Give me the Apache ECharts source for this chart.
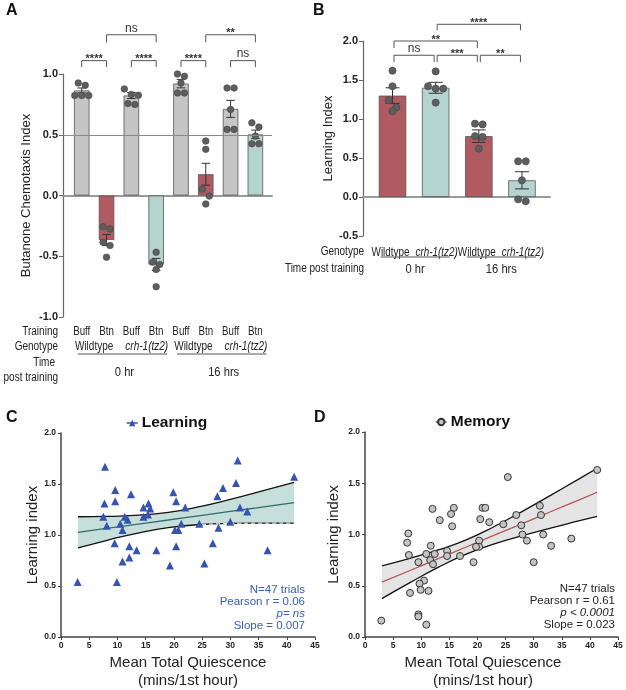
<!DOCTYPE html>
<html>
<head>
<meta charset="utf-8">
<title>Butanone learning and memory</title>
<script src="https://cdn.jsdelivr.net/npm/echarts@6/dist/echarts.min.js"></script>
<style>
    html, body { margin: 0; padding: 0; background: #fff; }
    #chart { width: 626px; height: 690px; }
</style>
</head>
<body>
<div id="chart"></div>
<script>

// ------------------------------
// Data
// ------------------------------

// Panel A - chemotaxis index per condition
var aTraining = ['Buff', 'Btn', 'Buff', 'Btn', 'Buff', 'Btn', 'Buff', 'Btn'];
var aGenotype = ['Wildtype', 'crh-1(tz2)', 'Wildtype', 'crh-1(tz2)'];
var aTime = ['0 hr', '16 hrs'];
var aMeans = [0.865, -0.366, 0.823, -0.568, 0.921, 0.175, 0.713, 0.503];
var aSem = [0.02, 0.045, 0.025, 0.05, 0.035, 0.09, 0.07, 0.035];
var aPoints = [
    [0.926, 0.907, 0.823, 0.823, 0.823],
    [-0.257, -0.276, -0.385, -0.412, -0.508],
    [0.877, 0.831, 0.825, 0.757, 0.749],
    [-0.467, -0.549, -0.568, -0.609, -0.751],
    [1.0, 0.981, 0.926, 0.844, 0.844],
    [0.448, 0.38, 0.052, -0.005, -0.07],
    [0.885, 0.885, 0.708, 0.544, 0.544],
    [0.598, 0.563, 0.489, 0.426, 0.426]
];
// [from bar, to bar, label, level]
var aSig = [[1, 2, '****', 0], [3, 4, '****', 0], [5, 6, '****', 0], [7, 8, 'ns', 0], [2, 4, 'ns', 1], [6, 8, '**', 1]];

// Panel B - learning index
var bGenotype = ['Wildtype', 'crh-1(tz2)', 'Wildtype', 'crh-1(tz2)'];
var bTime = ['0 hr', '16 hrs'];
var bMeans = [1.30, 1.40, 0.78, 0.214];
var bSem = [0.10, 0.07, 0.08, 0.11];
var bPoints = [
    [1.62, 1.42, 1.24, 1.15, 1.10],
    [1.61, 1.42, 1.39, 1.39, 1.21],
    [0.94, 0.93, 0.78, 0.77, 0.62],
    [0.458, 0.458, 0.214, -0.03, -0.055]
];
var bSig = [[1, 2, 'ns', 0], [2, 3, '***', 0], [3, 4, '**', 0], [1, 3, '**', 1], [2, 4, '****', 2]];

// Panel C - learning vs quiescence
var cX = [7.8, 31.3, 41.3, 9.6, 12.4, 7.7, 9.6, 19.9, 20.4, 31.0, 28.7, 27.7, 15.5, 14.6, 15.8, 15.4, 14.6, 11.3, 11.8, 7.5, 22.0, 31.7, 33.0, 10.5, 8.1, 10.9, 21.3, 24.5, 30.0, 27.9, 20.2, 20.8, 9.5, 12.1, 13.4, 16.9, 20.4, 26.9, 36.6, 12.1, 10.9, 19.3, 25.4, 2.95, 9.9];
var cY = [1.67, 1.73, 1.57, 1.44, 1.40, 1.31, 1.33, 1.42, 1.33, 1.51, 1.46, 1.38, 1.31, 1.27, 1.26, 1.20, 1.18, 1.18, 1.15, 1.18, 1.27, 1.27, 1.23, 1.11, 1.09, 1.05, 1.11, 1.11, 1.13, 1.07, 1.05, 1.05, 0.92, 0.89, 0.85, 0.85, 0.89, 0.92, 0.85, 0.78, 0.74, 0.70, 0.72, 0.54, 0.54];
var cBandX = [3, 8, 13, 19, 25, 30, 35, 41.3];
var cFit = [1.026, 1.064, 1.102, 1.147, 1.193, 1.231, 1.269, 1.317];
var cUpper = [1.179, 1.182, 1.192, 1.222, 1.283, 1.349, 1.422, 1.517];
var cLower = [0.873, 0.946, 1.012, 1.072, 1.103, 1.113, 1.116, 1.117];
var cStats = ['N=47 trials', 'Pearson r = 0.06', 'p= ns', 'Slope = 0.007'];

// Panel D - memory vs quiescence
var dX = [41.3, 25.4, 12.0, 15.8, 20.9, 21.4, 15.3, 13.3, 15.5, 20.5, 22.1, 24.6, 26.9, 31.1, 31.3, 27.8, 28.0, 28.8, 31.7, 33.1, 36.7, 30.0, 7.7, 7.5, 11.7, 7.8, 10.9, 12.4, 11.6, 12.1, 9.5, 14.6, 14.6, 16.9, 20.3, 20.3, 19.75, 19.3, 10.5, 9.7, 8.0, 9.9, 11.3, 2.9, 9.5, 9.5, 10.9];
var dY = [1.63, 1.56, 1.25, 1.26, 1.26, 1.26, 1.20, 1.14, 1.08, 1.15, 1.12, 1.10, 1.19, 1.28, 1.19, 1.09, 1.00, 0.94, 1.00, 0.89, 0.96, 0.73, 1.01, 0.92, 0.89, 0.80, 0.81, 0.81, 0.75, 0.71, 0.73, 0.84, 0.79, 0.79, 0.94, 0.88, 0.88, 0.73, 0.55, 0.52, 0.43, 0.46, 0.45, 0.16, 0.22, 0.20, 0.12];
var dBandX = [3, 8, 13, 18, 23, 28, 33, 38, 41.3];
var dFit = [0.535, 0.649, 0.764, 0.878, 0.993, 1.107, 1.222, 1.336, 1.412];
var dUpper = [0.695, 0.768, 0.849, 0.948, 1.078, 1.226, 1.382, 1.540, 1.646];
var dLower = [0.375, 0.530, 0.679, 0.808, 0.908, 0.988, 1.062, 1.132, 1.178];
var dStats = ['N=47 trials', 'Pearson r = 0.61', 'p < 0.0001', 'Slope = 0.023'];


// ------------------------------
// Styles
// ------------------------------

var FONT = '"Liberation Sans", Arial, sans-serif';
var GRAY_BAR = '#c5c5c5';
var RED_BAR = '#b05b61';
var TEAL_BAR = '#b4d4cf';
var aColors = [GRAY_BAR, RED_BAR, GRAY_BAR, TEAL_BAR, GRAY_BAR, RED_BAR, GRAY_BAR, TEAL_BAR];
var bColors = [RED_BAR, TEAL_BAR, RED_BAR, TEAL_BAR];
var BLUE = '#3553b0';

// bracket levels: [top, leg bottom] in data units
var aLevels = [[1.11, 1.057], [1.323, 1.26]];
var bLevels = [[1.817, 1.73], [2.0, 1.91], [2.214, 2.137]];


// ------------------------------
// Helpers
// ------------------------------

// text element; sx squeezes the glyphs to mimic a narrow face
function textEl(x, y, str, o) {
    o = o || {};
    var align = o.align || 'center';
    var el = {
        type: 'text', x: x, y: y, silent: true,
        scaleX: o.sx || 1,
        style: {
            text: str,
            fill: o.color || '#222',
            fontSize: o.size || 12,
            fontFamily: FONT,
            fontStyle: o.italic ? 'italic' : 'normal',
            fontWeight: o.bold ? 'bold' : 'normal',
            align: align, textAlign: align,
            verticalAlign: 'middle', textVerticalAlign: 'middle'
        }
    };
    if (o.z) el.z = o.z;
    return el;
}

function lineEl(x1, y1, x2, y2, color, w) {
    return {
        type: 'line', silent: true,
        shape: { x1: x1, y1: y1, x2: x2, y2: y2 },
        style: { stroke: color || '#333', lineWidth: w || 1 }
    };
}

// spread points with close values side by side
function swarmOffsets(vals, ppu, d) {
    var idx = vals.map(function(v, i) { return i; }).sort(function(a, b) { return vals[b] - vals[a]; });
    var off = vals.map(function() { return 0; });
    var k = 0;
    while (k < idx.length) {
        var cl = [idx[k]];
        var j = k + 1;
        while (j < idx.length && (vals[idx[k]] - vals[idx[j]]) * ppu < d) {
            cl.push(idx[j]);
            j++;
        }
        cl.forEach(function(p, n) { off[p] = (n - (cl.length - 1) / 2) * d; });
        k = j;
    }
    return off;
}

function errorBarRenderer(means, sems, half) {
    return function(params, api) {
        var i = params.dataIndex;
        var hi = api.coord([i + 1, means[i] + sems[i]]);
        var lo = api.coord([i + 1, means[i] - sems[i]]);
        return {
            type: 'group',
            children: [
                lineEl(hi[0], hi[1], lo[0], lo[1], '#333', 1),
                lineEl(hi[0] - half, hi[1], hi[0] + half, hi[1], '#333', 1),
                lineEl(lo[0] - half, lo[1], lo[0] + half, lo[1], '#333', 1)
            ]
        };
    };
}

function dotRenderer(groups, r) {
    return function(params, api) {
        var g = api.value(0) - 1;
        var k = api.value(2);
        var ppu = Math.abs(api.size([0, 1])[1]);
        var offs = swarmOffsets(groups[g], ppu, r * 2 + 0.4);
        var p = api.coord([g + 1, api.value(1)]);
        return {
            type: 'circle',
            shape: { cx: p[0] + offs[k], cy: p[1], r: r },
            style: { fill: '#5e5e5e', stroke: '#444', lineWidth: 0.6 }
        };
    };
}

function dotData(groups) {
    var out = [];
    groups.forEach(function(vals, g) {
        vals.forEach(function(v, k) { out.push([g + 1, v, k]); });
    });
    return out;
}

function bracketRenderer(sigs, levels, inset) {
    return function(params, api) {
        var s = sigs[params.dataIndex];
        var lv = levels[s[3]];
        var a = api.coord([s[0], lv[0]]);
        var b = api.coord([s[1], lv[0]]);
        var leg = api.coord([s[0], lv[1]])[1];
        var x1 = a[0] + inset, x2 = b[0] - inset;
        var isStar = s[2].indexOf('*') === 0;
        return {
            type: 'group',
            children: [
                {
                    type: 'polyline', silent: true,
                    shape: { points: [[x1, leg], [x1, a[1]], [x2, a[1]], [x2, leg]] },
                    style: { stroke: '#555', lineWidth: 1, fill: null }
                },
                textEl((x1 + x2) / 2, a[1] + (isStar ? -1.5 : -6.5), s[2], {
                    size: isStar ? 11 : 12, bold: isStar, color: '#333'
                })
            ]
        };
    };
}

function barData(means, colors) {
    return means.map(function(m, i) {
        return { value: [i + 1, m], itemStyle: { color: colors[i] } };
    });
}

function xyData(xs, ys) {
    return xs.map(function(x, i) { return [x, ys[i]]; });
}


// ------------------------------
// Label rows under A and B
// ------------------------------

function renderALabels(params, api) {
    var base = api.coord([1, -1])[1];
    var kids = [];
    aTraining.forEach(function(t, i) {
        kids.push(textEl(api.coord([i + 1, -1])[0], base + 15, t, { size: 12.5, sx: 0.78 }));
    });
    for (var g = 0; g < aGenotype.length; g++) {
        var x1 = api.coord([2 * g + 1, -1])[0];
        var x2 = api.coord([2 * g + 2, -1])[0];
        var it = aGenotype[g].indexOf('crh') === 0;
        kids.push(textEl((x1 + x2) / 2 + (it ? 3 : 0), base + 30, aGenotype[g], { size: 12.5, italic: it, sx: 0.8 }));
    }
    for (var t = 0; t < aTime.length; t++) {
        var l = api.coord([4 * t + 1, -1])[0] - 4;
        var r = api.coord([4 * t + 4, -1])[0] + 11;
        kids.push(lineEl(l, base + 37, r, base + 37, '#555', 1));
        kids.push(textEl((l + r) / 2 + 2, base + 55, aTime[t], { size: 13, sx: 0.86 }));
    }
    return { type: 'group', children: kids };
}

function renderBLabels(params, api) {
    var base = api.coord([1, -0.5])[1];
    var kids = [];
    bGenotype.forEach(function(gn, i) {
        var it = gn.indexOf('crh') === 0;
        kids.push(textEl(api.coord([i + 1, -0.5])[0] + (it ? 1 : -2), base + 16, gn, { size: 13, italic: it, sx: 0.76 }));
    });
    for (var t = 0; t < bTime.length; t++) {
        var l = api.coord([2 * t + 1, -0.5])[0] - 12;
        var r = api.coord([2 * t + 2, -0.5])[0] + 14;
        kids.push(lineEl(l, base + 21, r, base + 21, '#555', 1));
        kids.push(textEl((l + r) / 2, base + 33.6, bTime[t], { size: 13, sx: 0.86 }));
    }
    return { type: 'group', children: kids };
}


// ------------------------------
// Axes
// ------------------------------

function barYAxis(grid, min, max, name, gap) {
    return {
        gridIndex: grid, type: 'value', min: min, max: max, interval: 0.5,
        name: name, nameLocation: 'middle', nameGap: gap,
        nameTextStyle: { fontFamily: FONT, fontSize: 13, color: '#222' },
        axisLine: { show: true, lineStyle: { color: '#666', width: 1.2 } },
        axisTick: { show: true, length: 4, lineStyle: { color: '#666' } },
        axisLabel: {
            fontFamily: FONT, fontSize: 11, fontWeight: 'bold', color: '#222', margin: 5,
            formatter: function(v) { return v.toFixed(1); }
        },
        splitLine: { show: false }
    };
}

function barXAxis(grid, min, max) {
    return {
        gridIndex: grid, type: 'value', min: min, max: max,
        axisLine: { show: true, onZero: true, lineStyle: { color: '#9a9a9a', width: 2 } },
        axisTick: { show: false }, axisLabel: { show: false }, splitLine: { show: false }
    };
}

function scatterXAxis(grid, padRight) {
    return {
        gridIndex: grid, type: 'value', min: 0, max: 45, interval: 5, z: 3,
        name: 'Mean Total Quiescence\n(mins/1st hour)', nameLocation: 'middle', nameGap: 17,
        nameTextStyle: { fontFamily: FONT, fontSize: 15, lineHeight: 18, color: '#222', padding: [0, padRight, 0, 0] },
        axisLine: { lineStyle: { color: '#444', width: 1.5 } },
        axisTick: { show: true, length: 3, lineStyle: { color: '#444' } },
        axisLabel: { fontFamily: FONT, fontSize: 8.5, fontWeight: 'bold', color: '#222', margin: 4 },
        splitLine: { show: false }
    };
}

function scatterYAxis(grid, gap) {
    return {
        gridIndex: grid, type: 'value', min: 0, max: 2, interval: 0.5, z: 3,
        name: 'Learning index', nameLocation: 'middle', nameGap: gap,
        nameTextStyle: { fontFamily: FONT, fontSize: 15, color: '#222' },
        axisLine: { show: true, lineStyle: { color: '#444', width: 1.5 } },
        axisTick: { show: true, length: 3, lineStyle: { color: '#444' } },
        axisLabel: {
            fontFamily: FONT, fontSize: 8.5, fontWeight: 'bold', color: '#222', margin: 5,
            formatter: function(v) { return v.toFixed(1); }
        },
        splitLine: { show: false }
    };
}

// confidence band: upper line fills down in band colour, lower line fills down in white
function bandLine(idx, xs, ys, color, fill) {
    return {
        type: 'line', xAxisIndex: idx, yAxisIndex: idx, smooth: true, showSymbol: false,
        silent: true, z: 2, lineStyle: { color: color, width: 1.3 },
        areaStyle: { color: fill, opacity: 1, origin: 'start' },
        data: xyData(xs, ys)
    };
}

function plainLine(idx, xs, ys, color) {
    return {
        type: 'line', xAxisIndex: idx, yAxisIndex: idx, smooth: true, showSymbol: false,
        silent: true, z: 2, lineStyle: { color: color, width: 1.3 }, data: xyData(xs, ys)
    };
}

function statsTexts(stats, right, top, color) {
    return stats.map(function(s, i) {
        return textEl(right, top + i * 12, s, {
            align: 'right', size: 11.5, color: color, italic: i === 2, z: 100
        });
    });
}

function letter(x, y, s) {
    return textEl(x, y, s, { align: 'left', size: 16, bold: true, color: '#111', z: 100 });
}

function rowHead(x, y, s, size) {
    return textEl(x, y, s, { align: 'right', size: size, sx: 0.8, z: 100 });
}

function titleLegend(name, left, top, color) {
    return {
        data: [name], left: left, top: top, padding: 0, itemGap: 0,
        itemWidth: 11, itemHeight: 8, selectedMode: false,
        textStyle: { fontFamily: FONT, fontSize: 15.5, fontWeight: 'bold', color: '#111', padding: [0, 0, 0, -1] },
        lineStyle: { width: 1.5, opacity: 1, color: color }
    };
}


// ------------------------------
// Chart
// ------------------------------

var chart = echarts.init(document.getElementById('chart'), null, { renderer: 'canvas' });

var cLowerTail = cBandX.map(function(x, i) { return x >= 24 ? [x, cLower[i]] : null; }).filter(Boolean);

chart.setOption({
    animation: false,
    textStyle: { fontFamily: FONT },
    grid: [
        { left: 63, top: 74, width: 209, height: 243, outerBoundsMode: 'none' },
        { left: 363, top: 41, width: 187, height: 195, outerBoundsMode: 'none' },
        { left: 61, top: 433, width: 254, height: 204, outerBoundsMode: 'none' },
        { left: 365, top: 432, width: 253, height: 205, outerBoundsMode: 'none' }
    ],
    xAxis: [
        barXAxis(0, 0.245, 8.67),
        barXAxis(1, 0.316, 4.65),
        scatterXAxis(2, 0),
        scatterXAxis(3, 17)
    ],
    yAxis: [
        barYAxis(0, -1, 1, 'Butanone Chemotaxis Index', 30),
        barYAxis(1, -0.5, 2, 'Learning Index', 28),
        scatterYAxis(2, 19),
        scatterYAxis(3, 24)
    ],
    legend: [
        titleLegend('Learning', 126, 415, BLUE),
        titleLegend('Memory', 435, 414, '#b8545a')
    ],
    graphic: [
        letter(6, 11, 'A'),
        letter(313, 11, 'B'),
        letter(6, 418, 'C'),
        letter(314, 418, 'D'),

        rowHead(58, 332, 'Training', 12.5),
        rowHead(58, 347, 'Genotype', 12.5),
        rowHead(55, 363, 'Time', 12.5),
        rowHead(58, 378, 'post training', 12.5),

        rowHead(364, 252, 'Genotype', 12.5),
        rowHead(364, 269, 'Time post training', 12.5)
    ]
        .concat(statsTexts(cStats, 305, 590, '#3a5cb8'))
        .concat(statsTexts(dStats, 615, 589, '#222')),
    series: [
        // ---- Panel A
        {
            type: 'bar', xAxisIndex: 0, yAxisIndex: 0, barWidth: 15.5, silent: true,
            itemStyle: { borderColor: '#555', borderWidth: 0.8 },
            data: barData(aMeans, aColors),
            markLine: {
                silent: true, symbol: 'none', label: { show: false },
                lineStyle: { color: '#8a8a8a', width: 1, type: 'solid' },
                data: [{ yAxis: 0.5 }]
            }
        },
        {
            type: 'custom', xAxisIndex: 0, yAxisIndex: 0, silent: true, z: 3,
            renderItem: errorBarRenderer(aMeans, aSem, 4.3),
            data: aMeans.map(function(m, i) { return [i + 1, m]; })
        },
        {
            type: 'custom', xAxisIndex: 0, yAxisIndex: 0, silent: true, z: 4, clip: false,
            renderItem: dotRenderer(aPoints, 3.3),
            data: dotData(aPoints)
        },
        {
            type: 'custom', xAxisIndex: 0, yAxisIndex: 0, silent: true, clip: false,
            renderItem: bracketRenderer(aSig, aLevels, 0),
            data: aSig.map(function(s) { return [s[0], 0]; })
        },
        {
            type: 'custom', xAxisIndex: 0, yAxisIndex: 0, silent: true, clip: false,
            renderItem: renderALabels, data: [[1, 0]]
        },

        // ---- Panel B
        {
            type: 'bar', xAxisIndex: 1, yAxisIndex: 1, barWidth: 27.5, silent: true,
            itemStyle: { borderColor: '#555', borderWidth: 0.8 },
            data: barData(bMeans, bColors)
        },
        {
            type: 'custom', xAxisIndex: 1, yAxisIndex: 1, silent: true, z: 3,
            renderItem: errorBarRenderer(bMeans, bSem, 7),
            data: bMeans.map(function(m, i) { return [i + 1, m]; })
        },
        {
            type: 'custom', xAxisIndex: 1, yAxisIndex: 1, silent: true, z: 4, clip: false,
            renderItem: dotRenderer(bPoints, 3.6),
            data: dotData(bPoints)
        },
        {
            type: 'custom', xAxisIndex: 1, yAxisIndex: 1, silent: true, clip: false,
            renderItem: bracketRenderer(bSig, bLevels, 1.5),
            data: bSig.map(function(s) { return [s[0], 0]; })
        },
        {
            type: 'custom', xAxisIndex: 1, yAxisIndex: 1, silent: true, clip: false,
            renderItem: renderBLabels, data: [[1, 0]]
        },

        // ---- Panel C
        bandLine(2, cBandX, cUpper, '#111', '#c6dfdb'),
        bandLine(2, cBandX, cLower, '#111', '#ffffff'),
        {
            type: 'line', xAxisIndex: 2, yAxisIndex: 2, smooth: true, showSymbol: false, silent: true, z: 2,
            lineStyle: { color: '#fff', width: 1, type: [4, 3] }, data: cLowerTail
        },
        plainLine(2, cBandX, cFit, '#2f6f68'),
        {
            name: 'Learning', type: 'line', xAxisIndex: 2, yAxisIndex: 2, z: 5,
            symbol: 'triangle', symbolSize: 8, showAllSymbol: true, silent: true,
            itemStyle: { color: BLUE },
            lineStyle: { width: 0, color: BLUE },
            data: xyData(cX, cY)
        },

        // ---- Panel D
        bandLine(3, dBandX, dUpper, '#111', '#e4e4e4'),
        bandLine(3, dBandX, dLower, '#111', '#ffffff'),
        plainLine(3, dBandX, dFit, '#b8545a'),
        {
            name: 'Memory', type: 'line', xAxisIndex: 3, yAxisIndex: 3, z: 5,
            symbol: 'circle', symbolSize: 7, showAllSymbol: true, silent: true,
            itemStyle: { color: '#c4c4c4', borderColor: '#333', borderWidth: 1 },
            lineStyle: { width: 0, color: '#b8545a' },
            data: xyData(dX, dY)
        }
    ]
});

</script>
</body>
</html>
